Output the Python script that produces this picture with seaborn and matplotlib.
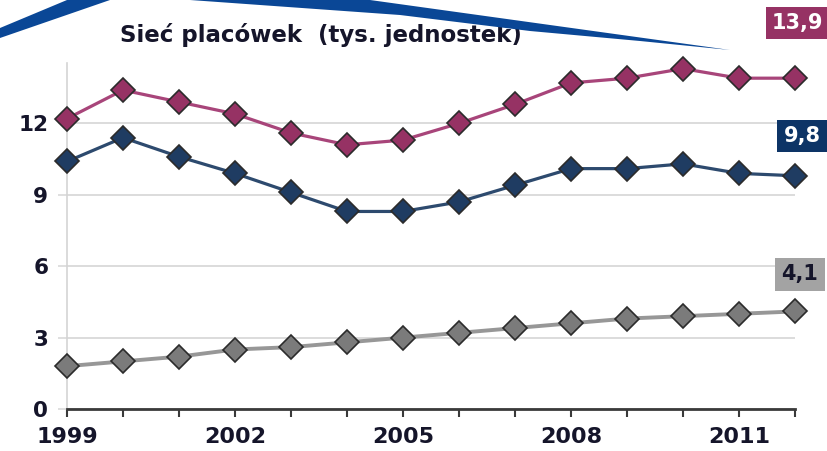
import matplotlib
matplotlib.use("Agg")
import matplotlib.pyplot as plt
import seaborn as sns
from matplotlib.patches import Polygon

# Years on the horizontal axis
years = list(range(1999, 2013))

# Three series of outlet counts (thousands of units)
line_plum = [12.2, 13.4, 12.9, 12.4, 11.6, 11.1, 11.3, 12.0, 12.8, 13.7, 13.9, 14.3, 13.9, 13.9]
line_navy = [10.4, 11.4, 10.6, 9.9, 9.1, 8.3, 8.3, 8.7, 9.4, 10.1, 10.1, 10.3, 9.9, 9.8]
line_gray = [1.8, 2.0, 2.2, 2.5, 2.6, 2.8, 3.0, 3.2, 3.4, 3.6, 3.8, 3.9, 4.0, 4.1]

x_ticks_labelled = [1999, 2002, 2005, 2008, 2011]
y_ticks = [0, 3, 6, 9, 12]
title_text = "Sieć placówek  (tys. jednostek)"

sns.set_theme(style="white")
plt.rcParams["font.family"] = ["DejaVu Sans"]

W, H = 828, 451
fig = plt.figure(figsize=(W / 100, H / 100), dpi=100)
fig.patch.set_facecolor("white")

# axes placed in pixel terms: left edge at 1999, right edge at 2012
left, right, top, bottom = 67, 795, 63, 409
ax = fig.add_axes([left / W, 1 - bottom / H, (right - left) / W, (bottom - top) / H])
ax.set_facecolor("white")

series = [
    (line_plum, "#a8457a", "#963264", 2.3),
    (line_navy, "#2d4a6e", "#1f3c62", 2.3),
    (line_gray, "#979797", "#7b7b7b", 2.8),
]
for vals, lc, fc, lw in series:
    sns.lineplot(x=years, y=vals, ax=ax, color=lc, lw=lw, marker="D",
                 markersize=12, markerfacecolor=fc, markeredgecolor="#2b2b2b",
                 markeredgewidth=1.2, clip_on=False, zorder=3, legend=False)

ax.set_xlim(1999, 2012)
ax.set_ylim(0, (bottom - top) / 23.8)
ax.set_xticks(years)
ax.set_xticklabels([str(y) if y in x_ticks_labelled else "" for y in years])
ax.set_yticks(y_ticks)
ax.set_yticklabels([str(v) for v in y_ticks])

text_col = "#15152a"
ax.tick_params(axis="x", direction="out", length=6, width=1.5, color="#3a3a3a",
               pad=7, labelsize=16, labelcolor=text_col, bottom=True)
ax.tick_params(axis="y", direction="out", length=6.5, width=1.2, color="#d9d9d9",
               pad=7, labelsize=15.5, labelcolor=text_col, left=True)
for lab in ax.get_xticklabels() + ax.get_yticklabels():
    lab.set_fontweight("bold")

ax.yaxis.grid(True, color="#d9d9d9", lw=1.3)
ax.xaxis.grid(False)
ax.set_axisbelow(True)
for s in ("top", "right"):
    ax.spines[s].set_visible(False)
ax.spines["left"].set_color("#d4d4d4")
ax.spines["left"].set_linewidth(1.2)
ax.spines["bottom"].set_color("#3a3a3a")
ax.spines["bottom"].set_linewidth(2)
ax.spines["bottom"].set_zorder(4)
ax.set_xlabel("")
ax.set_ylabel("")


def fmt(v):
    return f"{v:.1f}".replace(".", ",")


px = 72 / 100  # pixels to points
label_specs = [
    (line_plum, "#963264", "white", "left", -23, 55),
    (line_navy, "#0d3466", "white", "center", 7, 40),
    (line_gray, "#a3a3a3", text_col, "center", 5, 37),
]
for vals, box_c, txt_c, ha, dx, dy in label_specs:
    ax.annotate(fmt(vals[-1]), xy=(years[-1], vals[-1]),
                xytext=(dx * px, dy * px), textcoords="offset points",
                ha=ha, va="center", fontsize=15, fontweight="bold", color=txt_c,
                bbox=dict(boxstyle="square,pad=0.3", fc=box_c, ec="none"),
                annotation_clip=False, zorder=6)

# title
fig.text(120 / W, 1 - 42 / H, title_text, ha="left", va="baseline",
         fontsize=16.5, fontweight="bold", color=text_col, zorder=2)


# decorative blue swooshes along the top edge
def to_fig(pts):
    return [(x / W, 1 - y / H) for x, y in pts]


swoosh_col = "#0a4796"
left_wedge = [(0, 28), (67, 0), (110, 0), (0, 38)]
right_wedge = [(190, 0), (370, 0), (730, 50), (640, 41), (530, 31), (400, 15)]
for pts in (left_wedge, right_wedge):
    fig.add_artist(Polygon(to_fig(pts), closed=True, transform=fig.transFigure,
                           facecolor=swoosh_col, edgecolor="none", zorder=5))

fig.savefig("out.png", dpi=100, facecolor="white")
